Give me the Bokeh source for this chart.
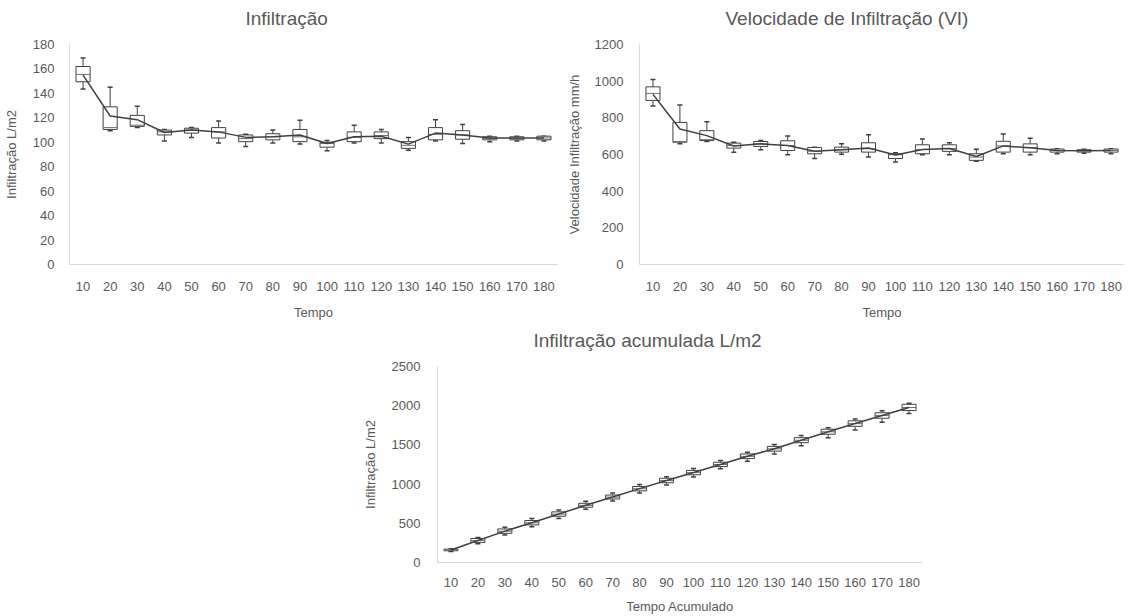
from bokeh.plotting import figure
from bokeh.models import FactorRange, Range1d, Spacer, ColumnDataSource, SingleIntervalTicker, Title
from bokeh.transform import dodge
from bokeh.layouts import column, row
from bokeh.embed import file_html
from bokeh.resources import INLINE

tempo = ["10", "20", "30", "40", "50", "60", "70", "80", "90", "100",
         "110", "120", "130", "140", "150", "160", "170", "180"]

# Infiltração (L/m2)
inf_mean = [155, 121.5, 118.5, 108, 110, 108.5, 104, 104.5, 106, 99, 104.5, 105, 98.5, 107.5, 106, 103.5, 103.5, 103.5]
inf_med = [155.5, 112, 114, 108.5, 110, 108.5, 103, 104.5, 104.5, 99, 104, 105.5, 97.5, 106.5, 106, 103, 103, 103.5]
inf_q1 = [149.5, 110.5, 113, 106, 107.5, 103.5, 100.5, 102, 100.5, 96, 100.5, 103, 95, 102, 102.5, 102, 102, 102]
inf_q3 = [162, 129, 122, 110, 111.5, 112, 106, 107, 110.5, 100, 108.5, 108.5, 100.5, 112, 109.5, 104.5, 104.5, 105]
inf_lo = [143.5, 109.5, 112, 101, 104, 99.5, 96.5, 99.5, 98.5, 93, 99.5, 99.5, 93.5, 101, 99, 100.5, 101, 101]
inf_hi = [169, 145, 129.5, 110.5, 112, 117.5, 106.5, 110, 118, 101.5, 114, 110.5, 104, 118.5, 114.5, 105, 105, 105]

# Velocidade de Infiltração (mm/h)
vi_mean = [928, 739, 703, 646, 658, 649, 618, 626, 635, 597, 627, 633, 589, 647, 637, 622, 620, 622]
vi_med = [933, 671, 681, 649, 658, 649, 618, 626, 631, 599, 627, 633, 586, 647, 637, 622, 620, 622]
vi_q1 = [895, 667, 676, 635, 644, 622, 604, 613, 613, 578, 604, 617, 568, 613, 613, 613, 613, 613]
vi_q3 = [969, 775, 730, 662, 671, 675, 638, 640, 664, 604, 653, 653, 604, 672, 658, 630, 626, 630]
vi_lo = [865, 658, 671, 612, 626, 599, 578, 601, 586, 559, 599, 599, 563, 604, 599, 604, 607, 604]
vi_hi = [1009, 870, 778, 667, 676, 701, 640, 658, 708, 610, 685, 664, 628, 712, 689, 632, 628, 632]

# Infiltração acumulada (L/m2)
acc_mean = [160, 281, 400, 508, 618, 730, 835, 942, 1046, 1147, 1251, 1355, 1451, 1560, 1668, 1772, 1875, 1978]
acc_med = [158, 280, 398, 507, 617, 729, 834, 941, 1045, 1146, 1250, 1354, 1450, 1559, 1667, 1771, 1874, 1977]
acc_q1 = [150, 256, 372, 480, 590, 705, 810, 914, 1018, 1119, 1223, 1325, 1421, 1528, 1636, 1737, 1840, 1938]
acc_q3 = [170, 306, 428, 536, 646, 755, 860, 970, 1074, 1175, 1279, 1385, 1481, 1592, 1700, 1807, 1910, 2018]
acc_lo = [140, 240, 350, 455, 560, 680, 785, 885, 990, 1090, 1195, 1290, 1385, 1490, 1590, 1690, 1790, 1900]
acc_hi = [175, 320, 450, 560, 670, 780, 885, 995, 1095, 1200, 1300, 1405, 1505, 1620, 1720, 1830, 1935, 2030]

FONT = "Liberation Sans"
TXT = "#595959"
DARK = "#404040"
AXIS = "#d9d9d9"
BW = 0.52


def make_chart(title, ylabel, xlabel, ymax, ystep, mean, med, q1, q3, lo, hi,
               width, height, bl, br, bt, bb, title_offset,
               ylab_standoff, xlab_standoff, xtick_standoff, ytick_standoff):
    p = figure(width=width, height=height, x_range=FactorRange(*tempo),
               y_range=Range1d(0, ymax), output_backend="svg", toolbar_location=None,
               min_border_left=bl, min_border_right=br, min_border_top=bt,
               min_border_bottom=bb, title=None)
    src = ColumnDataSource(dict(x=tempo, mean=mean, med=med, q1=q1, q3=q3, lo=lo, hi=hi))
    # whiskers
    p.segment(x0="x", y0="q3", x1="x", y1="hi", source=src, line_color=DARK, line_width=1)
    p.segment(x0="x", y0="q1", x1="x", y1="lo", source=src, line_color=DARK, line_width=1)
    p.scatter(x="x", y="hi", source=src, marker="dash", size=5, line_color=DARK, line_width=1.5)
    p.scatter(x="x", y="lo", source=src, marker="dash", size=5, line_color=DARK, line_width=1.5)
    # boxes
    p.vbar(x="x", bottom="q1", top="q3", width=BW, source=src, fill_color="white",
           line_color=DARK, line_width=1)
    p.segment(x0=dodge("x", -BW / 2, range=p.x_range), y0="med",
              x1=dodge("x", BW / 2, range=p.x_range), y1="med", source=src,
              line_color="#6f6f6f", line_width=1)
    # mean line
    p.line(x="x", y="mean", source=src, line_color=DARK, line_width=1.5)

    # small gap panel between frame and title, then the title itself
    p.add_layout(Title(text=" ", text_font_size="1px", standoff=8), "above")
    p.add_layout(Title(text=title, text_font=FONT, text_font_size="19px",
                       text_font_style="normal", text_color=TXT, align="left",
                       offset=title_offset, standoff=10), "above")

    p.yaxis.ticker = SingleIntervalTicker(interval=ystep)
    for ax in (p.xaxis, p.yaxis):
        ax.axis_line_color = AXIS
        ax.axis_line_width = 1
        ax.major_tick_line_color = None
        ax.minor_tick_line_color = None
        ax.major_label_text_font = FONT
        ax.major_label_text_font_size = "13px"
        ax.major_label_text_color = TXT
        ax.axis_label_text_font = FONT
        ax.axis_label_text_font_size = "13px"
        ax.axis_label_text_font_style = "normal"
        ax.axis_label_text_color = TXT
    p.xaxis.axis_label = xlabel
    p.yaxis.axis_label = ylabel
    p.xaxis.axis_label_standoff = xlab_standoff
    p.yaxis.axis_label_standoff = ylab_standoff
    p.xaxis.major_label_standoff = xtick_standoff
    p.yaxis.major_label_standoff = ytick_standoff
    p.xgrid.grid_line_color = None
    p.ygrid.grid_line_color = None
    p.outline_line_color = None
    p.background_fill_color = "white"
    p.border_fill_color = "white"
    return p


p1 = make_chart("Infiltração", "Infiltração L/m2", "Tempo", 180, 20,
                inf_mean, inf_med, inf_q1, inf_q3, inf_lo, inf_hi,
                562, 322, 65, 5, 44, 57, 176, 11, 11, 11, 9)
p2 = make_chart("Velocidade de Infiltração (VI)", "Velocidade Infiltração mm/h", "Tempo", 1200, 200,
                vi_mean, vi_med, vi_q1, vi_q3, vi_lo, vi_hi,
                566, 322, 77, 4, 43, 56, 86, 10, 11, 11, 10)
p3 = make_chart("Infiltração acumulada L/m2", "Infiltração L/m2", "Tempo Acumulado", 2500, 500,
                acc_mean, acc_med, acc_q1, acc_q3, acc_lo, acc_hi,
                600, 294, 85, 30, 40, 50, 96, 11, 9, 9, 11)

layout = column(row(p1, p2), row(Spacer(width=352, height=294), p3))

open("out.html", "w").write(file_html(layout, INLINE))
